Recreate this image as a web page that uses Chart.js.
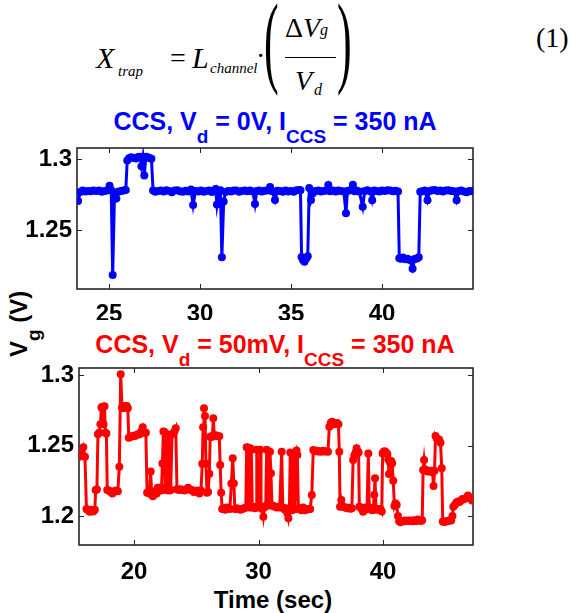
<!DOCTYPE html>
<html>
<head>
<meta charset="utf-8">
<script src="https://cdn.jsdelivr.net/npm/chart.js@4.4.0/dist/chart.umd.min.js"></script>
<style>
    html, body { margin: 0; padding: 0; background: #fff; }
    body { width: 576px; height: 613px; position: relative; overflow: hidden; font-family: "Liberation Sans", Arial, sans-serif; color: #000; }
    .eq { position: absolute; font-family: "Liberation Serif", "Times New Roman", serif; line-height: 1; white-space: nowrap; }
    .it { font-style: italic; }
    .titulo { position: absolute; left: 0; width: 550px; text-align: center; font-weight: bold; font-size: 25px; line-height: 25px; white-space: nowrap; }
    .titulo sub, .rotulo sub { font-size: 19px; vertical-align: -13px; line-height: 0; }
    .rotulo { position: absolute; font-weight: bold; font-size: 24px; line-height: 24px; white-space: nowrap; }
    canvas { position: absolute; left: 0; }
</style>
</head>
<body>

<!-- Equação (1) -->
<span class="eq it" style="font-size:30px; left:96px; top:43px;">X</span>
<span class="eq it" style="font-size:15px; left:118px; top:64px;">trap</span>
<span class="eq" style="font-size:28px; left:170px; top:44px;">=</span>
<span class="eq it" style="font-size:30px; left:192px; top:43px;">L</span>
<span class="eq it" style="font-size:15px; left:210px; top:61px;">channel</span>
<span class="eq" style="font-size:28px; left:256px; top:42px;">·</span>
<span class="eq" style="font-size:44px; left:264px; top:20px; transform:scaleY(2.3);">(</span>
<span class="eq" style="font-size:28px; left:285px; top:14px;">Δ<i>V</i></span>
<span class="eq it" style="font-size:16px; left:320px; top:22px;">g</span>
<div style="position:absolute; left:285px; top:57px; width:51px; height:1px; background:#000;"></div>
<span class="eq it" style="font-size:28px; left:295px; top:67px;">V</span>
<span class="eq it" style="font-size:16px; left:314px; top:82px;">d</span>
<span class="eq" style="font-size:44px; left:337px; top:20px; transform:scaleY(2.3);">)</span>
<span class="eq" style="font-size:28px; left:536px; top:24px;">(1)</span>

<!-- Títulos dos painéis -->
<div class="titulo" style="top:109px; color:#0000ff;">CCS, V<sub>d</sub> = 0V, I<sub>CCS</sub> = 350 nA</div>
<div class="titulo" style="top:332px; color:#ff0000;">CCS, V<sub>d</sub> = 50mV, I<sub>CCS</sub> = 350 nA</div>

<!-- Rótulos dos eixos -->
<div class="rotulo" style="left:7px; top:357px; transform-origin:0 0; transform:rotate(-90deg);">V<sub>g</sub> (V)</div>
<div class="rotulo" style="left:0; width:546px; text-align:center; top:588px;">Time (sec)</div>

<canvas id="graficoSuperior" width="576" height="180" style="top:140px;"></canvas>
<canvas id="graficoInferior" width="576" height="225" style="top:355px;"></canvas>

<script>
// Painel superior: Vd = 0V (tempo em s, Vg em V)
const tempoSuperior = [
    23.30, 23.42, 23.55, 23.70, 23.85, 24.00, 24.15, 24.30, 24.45, 24.60,
    24.75, 24.90, 25.03, 25.12, 25.20, 25.30, 25.40, 25.50, 25.65, 25.80,
    25.92, 26.00, 26.10, 26.22, 26.35, 26.48, 26.60, 26.70, 26.78, 26.86,
    26.94, 27.02, 27.12, 27.22, 27.33, 27.42, 27.55, 27.70, 27.85, 28.00,
    28.15, 28.30, 28.45, 28.60, 28.75, 28.90, 29.05, 29.20, 29.35, 29.50,
    29.62, 29.75, 29.90, 30.05, 30.20, 30.35, 30.50, 30.65, 30.78, 30.86,
    30.93, 31.03, 31.12, 31.20, 31.30, 31.40, 31.55, 31.70, 31.85, 32.00,
    32.15, 32.30, 32.45, 32.60, 32.75, 32.90, 33.02, 33.12, 33.25, 33.40,
    33.55, 33.70, 33.85, 33.97, 34.12, 34.25, 34.40, 34.55, 34.70, 34.85,
    35.00, 35.15, 35.30, 35.45, 35.52, 35.58, 35.66, 35.74, 35.84, 35.92,
    36.00, 36.10, 36.20, 36.35, 36.50, 36.65, 36.80, 36.95, 37.05, 37.15,
    37.30, 37.45, 37.60, 37.75, 37.90, 38.02, 38.10, 38.25, 38.40, 38.50,
    38.60, 38.75, 38.94, 39.05, 39.20, 39.35, 39.46, 39.58, 39.70, 39.85,
    40.00, 40.15, 40.30, 40.45, 40.60, 40.75, 40.88, 40.95, 41.05, 41.15,
    41.28, 41.40, 41.52, 41.68, 41.80, 41.92, 42.02, 42.10, 42.22, 42.35,
    42.50, 42.62, 42.75, 42.90, 43.05, 43.20, 43.35, 43.50, 43.65, 43.80,
    43.95, 44.10, 44.22, 44.35, 44.50, 44.65, 44.80, 44.95, 45.05
];
const vgSuperior = [
    1.2705, 1.2768, 1.2778, 1.2772, 1.2776, 1.2774, 1.2779, 1.2776, 1.2778, 1.2770,
    1.2775, 1.2778, 1.2812, 1.2780, 1.2183, 1.2750, 1.2722, 1.2770, 1.2776, 1.2778,
    1.2782, 1.2990, 1.3005, 1.3012, 1.3008, 1.3004, 1.3015, 1.3016, 1.2950, 1.3014,
    1.2885, 1.3016, 1.3012, 1.3008, 1.3003, 1.2778, 1.2770, 1.2775, 1.2778, 1.2772,
    1.2780, 1.2776, 1.2766, 1.2778, 1.2781, 1.2774, 1.2770, 1.2777, 1.2771, 1.2785,
    1.2676, 1.2776, 1.2772, 1.2778, 1.2770, 1.2776, 1.2779, 1.2768, 1.2774, 1.2790,
    1.2680, 1.2772, 1.2780, 1.2308, 1.2702, 1.2768, 1.2776, 1.2772, 1.2778, 1.2779,
    1.2770, 1.2776, 1.2778, 1.2773, 1.2779, 1.2771, 1.2683, 1.2775, 1.2778, 1.2772,
    1.2777, 1.2779, 1.2803, 1.2774, 1.2711, 1.2777, 1.2775, 1.2770, 1.2778, 1.2772,
    1.2776, 1.2770, 1.2780, 1.2782, 1.2780, 1.2310, 1.2290, 1.2277, 1.2300, 1.2315,
    1.2796, 1.2712, 1.2760, 1.2775, 1.2779, 1.2772, 1.2776, 1.2778, 1.2817, 1.2774,
    1.2779, 1.2771, 1.2778, 1.2776, 1.2772, 1.2618, 1.2776, 1.2780, 1.2820, 1.2774,
    1.2778, 1.2772, 1.2664, 1.2776, 1.2780, 1.2774, 1.2710, 1.2778, 1.2776, 1.2772,
    1.2779, 1.2776, 1.2781, 1.2778, 1.2774, 1.2777, 1.2772, 1.2302, 1.2298, 1.2306,
    1.2294, 1.2298, 1.2290, 1.2228, 1.2296, 1.2300, 1.2308, 1.2770, 1.2774, 1.2778,
    1.2710, 1.2776, 1.2780, 1.2782, 1.2776, 1.2779, 1.2772, 1.2778, 1.2781, 1.2776,
    1.2774, 1.2710, 1.2776, 1.2779, 1.2772, 1.2766, 1.2776, 1.2774, 1.2778
];

// Painel inferior: Vd = 50mV
const tempoInferior = [
    15.58, 15.75, 15.93, 16.06, 16.18, 16.30, 16.45, 16.58, 16.72, 16.85,
    16.92, 17.02, 17.10, 17.20, 17.30, 17.38, 17.46, 17.55, 17.63, 17.70,
    17.78, 17.85, 17.98, 18.12, 18.26, 18.40, 18.55, 18.70, 18.82, 18.93,
    19.03, 19.12, 19.22, 19.32, 19.42, 19.50, 19.58, 19.70, 19.82, 19.95,
    20.08, 20.20, 20.32, 20.45, 20.58, 20.70, 20.82, 20.95, 21.05, 21.15,
    21.25, 21.34, 21.42, 21.52, 21.62, 21.72, 21.82, 21.90, 22.00, 22.10,
    22.20, 22.28, 22.36, 22.43, 22.50, 22.60, 22.68, 22.78, 22.86, 22.95,
    23.05, 23.15, 23.25, 23.35, 23.45, 23.60, 23.75, 23.90, 24.05, 24.20,
    24.35, 24.50, 24.65, 24.80, 24.95, 25.10, 25.25, 25.38, 25.48, 25.55,
    25.62, 25.70, 25.78, 25.86, 25.95, 26.05, 26.12, 26.22, 26.30, 26.37,
    26.45, 26.55, 26.65, 26.75, 26.85, 26.92, 27.00, 27.08, 27.20, 27.32,
    27.45, 27.58, 27.70, 27.82, 27.93, 28.02, 28.10, 28.25, 28.40, 28.55,
    28.70, 28.85, 28.98, 29.05, 29.12, 29.20, 29.28, 29.34, 29.42, 29.50,
    29.60, 29.70, 29.80, 29.86, 29.94, 30.05, 30.13, 30.20, 30.30, 30.39,
    30.47, 30.58, 30.66, 30.74, 30.84, 30.92, 31.00, 31.08, 31.20, 31.32,
    31.45, 31.58, 31.70, 31.86, 31.95, 32.05, 32.15, 32.25, 32.32, 32.40,
    32.48, 32.55, 32.62, 32.70, 32.76, 32.84, 32.92, 32.98, 33.05, 33.12,
    33.20, 33.32, 33.45, 33.58, 33.70, 33.82, 33.95, 34.05, 34.15, 34.28,
    34.40, 34.52, 34.65, 34.78, 34.90, 35.05, 35.18, 35.32, 35.45, 35.58,
    35.69, 35.80, 35.92, 36.05, 36.18, 36.30, 36.42, 36.49, 36.55, 36.65,
    36.75, 36.88, 37.00, 37.12, 37.25, 37.38, 37.50, 37.60, 37.70, 37.80,
    37.88, 37.96, 38.04, 38.10, 38.20, 38.30, 38.40, 38.50, 38.60, 38.72,
    38.82, 38.90, 39.00, 39.12, 39.22, 39.30, 39.36, 39.44, 39.55, 39.68,
    39.80, 39.90, 39.97, 40.05, 40.15, 40.25, 40.35, 40.42, 40.48, 40.56,
    40.66, 40.74, 40.82, 40.92, 41.00, 41.10, 41.20, 41.30, 41.42, 41.55,
    41.68, 41.80, 41.92, 42.05, 42.18, 42.30, 42.42, 42.55, 42.68, 42.80,
    42.92, 43.05, 43.15, 43.22, 43.30, 43.38, 43.48, 43.58, 43.68, 43.78,
    43.88, 43.98, 44.06, 44.14, 44.22, 44.32, 44.42, 44.52, 44.62, 44.72,
    44.80, 44.90, 45.00, 45.12, 45.24, 45.36, 45.48, 45.58, 45.65, 45.78,
    45.90, 46.02, 46.14, 46.26, 46.38, 46.50, 46.62, 46.72, 46.82, 46.92,
    47.05, 47.15, 47.25
];
const vgInferior = [
    1.2420, 1.2440, 1.2487, 1.2420, 1.2050, 1.2040, 1.2030, 1.2045, 1.2032, 1.2045,
    1.2185, 1.2188, 1.2580, 1.2590, 1.2650, 1.2770, 1.2775, 1.2650, 1.2778, 1.2590,
    1.2585, 1.2185, 1.2180, 1.2170, 1.2160, 1.2175, 1.2180, 1.2175, 1.2350, 1.3005,
    1.2770, 1.2765, 1.2780, 1.2770, 1.2780, 1.2765, 1.2555, 1.2560, 1.2565, 1.2570,
    1.2568, 1.2575, 1.2580, 1.2580, 1.2600, 1.2630, 1.2590, 1.2590, 1.2165, 1.2170,
    1.2160, 1.2315, 1.2150, 1.2140, 1.2160, 1.2175, 1.2160, 1.2200, 1.2200, 1.2185,
    1.2180, 1.2372, 1.2600, 1.2598, 1.2200, 1.2185, 1.2580, 1.2575, 1.2180, 1.2185,
    1.2580, 1.2585, 1.2600, 1.2622, 1.2190, 1.2185, 1.2190, 1.2185, 1.2180, 1.2190,
    1.2200, 1.2185, 1.2185, 1.2170, 1.2175, 1.2180, 1.2160, 1.2180, 1.2370, 1.2630,
    1.2764, 1.2710, 1.2370, 1.2165, 1.2170, 1.2300, 1.2563, 1.2560, 1.2570, 1.2693,
    1.2570, 1.2572, 1.2570, 1.2565, 1.2565, 1.2362, 1.2165, 1.2050, 1.2055, 1.2045,
    1.2060, 1.2055, 1.2050, 1.2230, 1.2410, 1.2230, 1.2050, 1.2055, 1.2050, 1.2045,
    1.2050, 1.2055, 1.2060, 1.2487, 1.2485, 1.2070, 1.2060, 1.2480, 1.2470, 1.2065,
    1.2060, 1.2055, 1.2065, 1.2470, 1.2060, 1.2070, 1.2470, 1.2065, 1.2050, 1.1995,
    1.2060, 1.2070, 1.2470, 1.2080, 1.2075, 1.2456, 1.2303, 1.2075, 1.2070, 1.2065,
    1.2060, 1.2065, 1.2060, 1.2456, 1.2060, 1.2050, 1.2045, 1.2055, 1.2020, 1.1984,
    1.2040, 1.2450, 1.2040, 1.2040, 1.2440, 1.2130, 1.2050, 1.2445, 1.2465, 1.2432,
    1.2050, 1.2055, 1.2040, 1.2060, 1.2040, 1.2045, 1.2050, 1.2048, 1.2050, 1.2149,
    1.2468, 1.2460, 1.2462, 1.2458, 1.2460, 1.2455, 1.2462, 1.2458, 1.2460, 1.2455,
    1.2633, 1.2660, 1.2668, 1.2650, 1.2655, 1.2660, 1.2650, 1.2456, 1.2066, 1.2113,
    1.2070, 1.2062, 1.2060, 1.2055, 1.2058, 1.2052, 1.2055, 1.2397, 1.2430, 1.2450,
    1.2480, 1.2460, 1.2450, 1.2066, 1.2060, 1.2050, 1.2030, 1.2040, 1.2060, 1.2050,
    1.2444, 1.2060, 1.2050, 1.2040, 1.2050, 1.2150, 1.2267, 1.2045, 1.2050, 1.2045,
    1.2050, 1.2031, 1.2444, 1.2455, 1.2460, 1.2450, 1.2440, 1.2400, 1.2298, 1.2380,
    1.2390, 1.2374, 1.2250, 1.2070, 1.2090, 1.2078, 1.2000, 1.1962, 1.1955, 1.1965,
    1.1962, 1.1968, 1.1965, 1.1968, 1.1965, 1.1968, 1.1962, 1.1970, 1.1965, 1.1975,
    1.1968, 1.1965, 1.1970, 1.2327, 1.2397, 1.2330, 1.2325, 1.2315, 1.2320, 1.2315,
    1.2320, 1.2310, 1.2213, 1.2320, 1.2567, 1.2550, 1.2545, 1.2540, 1.2520, 1.2338,
    1.1960, 1.1958, 1.1962, 1.1960, 1.1965, 1.1970, 1.1968, 1.2000, 1.2066, 1.2080,
    1.2095, 1.2102, 1.2100, 1.2110, 1.2120, 1.2118, 1.2125, 1.2130, 1.2145, 1.2125,
    1.2130, 1.2110, 1.2120
];

// Marcas e rótulos dos eixos
const ticksXSuperior = [25, 30, 35, 40];
const rotulosXSuperior = ['25', '30', '35', '40'];
const ticksYSuperior = [1.25, 1.3];
const rotulosYSuperior = ['1.25', '1.3'];
const ticksXInferior = [20, 30, 40];
const rotulosXInferior = ['20', '30', '40'];
const ticksYInferior = [1.2, 1.25, 1.3];
const rotulosYInferior = ['1.2', '1.25', '1.3'];

// Cores no estilo MATLAB
const CORES = {
    azul: '#0000ff',
    vermelho: '#ff0000',
    eixo: '#262626'
};

const FONTE_TICKS = { family: '"Liberation Sans", Arial, sans-serif', size: 24, weight: 'bold' };

/**
 * Desenha a caixa dos eixos com marcas para dentro (como no MATLAB)
 */
const caixaEixos = {
    id: 'caixaEixos',
    beforeDatasetsDraw(chart) {
        const { ctx, chartArea: a, scales } = chart;
        const tam = 5;
        ctx.save();
        ctx.strokeStyle = CORES.eixo;
        ctx.lineWidth = 1;
        ctx.beginPath();
        scales.x.ticks.forEach(t => {
            const px = Math.round(scales.x.getPixelForValue(t.value)) + 0.5;
            ctx.moveTo(px, a.bottom);
            ctx.lineTo(px, a.bottom - tam);
            ctx.moveTo(px, a.top);
            ctx.lineTo(px, a.top + tam);
        });
        scales.y.ticks.forEach(t => {
            const py = Math.round(scales.y.getPixelForValue(t.value)) + 0.5;
            ctx.moveTo(a.left, py);
            ctx.lineTo(a.left + tam, py);
            ctx.moveTo(a.right, py);
            ctx.lineTo(a.right - tam, py);
        });
        ctx.stroke();
        ctx.lineWidth = 1.6;
        ctx.strokeRect(a.left, a.top, a.right - a.left, a.bottom - a.top);
        ctx.restore();
    }
};

/**
 * Cria um painel Vg x tempo
 * @param {HTMLElement} canvas - Elemento canvas
 * @param {Object} p - tempo, vg, cor, limites, marcas e tamanhos dos eixos
 */
function criarPainel(canvas, p) {
    const pontos = p.tempo.map((t, i) => ({ x: t, y: p.vg[i] }));
    return new Chart(canvas.getContext('2d'), {
        type: 'line',
        data: {
            datasets: [{
                data: pontos,
                borderColor: p.cor,
                backgroundColor: p.cor,
                borderWidth: 3,
                pointRadius: 4,
                pointBorderWidth: 0,
                pointHoverRadius: 4,
                tension: 0
            }]
        },
        options: {
            responsive: false,
            animation: false,
            events: [],
            layout: { padding: p.padding },
            plugins: {
                legend: { display: false },
                tooltip: { enabled: false }
            },
            scales: {
                x: {
                    type: 'linear',
                    min: p.xMin,
                    max: p.xMax,
                    grid: { display: false, drawTicks: false },
                    border: { display: false },
                    ticks: {
                        font: FONTE_TICKS,
                        color: '#000',
                        padding: p.padX,
                        maxRotation: 0,
                        autoSkip: false,
                        callback: (v, i) => p.rotulosX[i]
                    },
                    afterBuildTicks: s => { s.ticks = p.ticksX.map(v => ({ value: v })); },
                    afterFit: s => {
                        s.height = p.alturaX;
                        s.paddingLeft = 0;
                        s.paddingRight = 0;
                    }
                },
                y: {
                    type: 'linear',
                    min: p.yMin,
                    max: p.yMax,
                    grid: { display: false, drawTicks: false },
                    border: { display: false },
                    ticks: {
                        font: FONTE_TICKS,
                        color: '#000',
                        padding: 5,
                        autoSkip: false,
                        callback: (v, i) => p.rotulosY[i]
                    },
                    afterBuildTicks: s => { s.ticks = p.ticksY.map(v => ({ value: v })); },
                    afterFit: s => {
                        s.width = p.larguraY;
                        s.paddingTop = 0;
                        s.paddingBottom = 0;
                    }
                }
            }
        },
        plugins: [caixaEixos]
    });
}

criarPainel(document.getElementById('graficoSuperior'), {
    tempo: tempoSuperior, vg: vgSuperior, cor: CORES.azul,
    xMin: 23.24, xMax: 45.0, yMin: 1.2085, yMax: 1.3078,
    ticksX: ticksXSuperior, rotulosX: rotulosXSuperior,
    ticksY: ticksYSuperior, rotulosY: rotulosYSuperior,
    padding: { top: 8, right: 103, bottom: 0, left: 0 },
    larguraY: 77, alturaX: 31, padX: 11
});

criarPainel(document.getElementById('graficoInferior'), {
    tempo: tempoInferior, vg: vgInferior, cor: CORES.vermelho,
    xMin: 15.58, xMax: 47.23, yMin: 1.1794, yMax: 1.305,
    ticksX: ticksXInferior, rotulosX: rotulosXInferior,
    ticksY: ticksYInferior, rotulosY: rotulosYInferior,
    padding: { top: 13, right: 103, bottom: 0, left: 0 },
    larguraY: 79, alturaX: 35, padX: 13
});
</script>
</body>
</html>
